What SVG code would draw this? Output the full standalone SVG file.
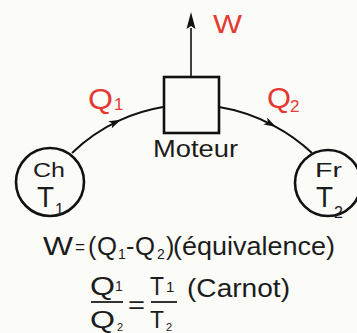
<svg xmlns="http://www.w3.org/2000/svg" width="357" height="333" viewBox="0 0 357 333">
<defs>
<style>
text{font-family:"Liberation Sans","DejaVu Sans",sans-serif;fill:#1c1c1c}
.red{fill:#e53a33}
.ln{fill:none;stroke:#111;stroke-width:2}
.nd{fill:none;stroke:#111;stroke-width:2.6}
</style>
<marker id="ah" viewBox="0 0 12 8" refX="10" refY="4" markerWidth="12" markerHeight="8" markerUnits="userSpaceOnUse" orient="auto">
<path d="M0,0 L12,4 L0,8 L3,4 z" fill="#111"/>
</marker>
</defs>
<rect width="357" height="333" fill="#fbfbf8"/>
<g id="connectors">
<path class="ln" d="M72,153 A172,172 0 0 1 119,120.6" marker-end="url(#ah)"/>
<path class="ln" d="M119,120.6 A172,172 0 0 1 163,107"/>
<path class="ln" d="M219,107 A172,172 0 0 1 274,125.8" marker-end="url(#ah)"/>
<path class="ln" d="M274,125.8 A172,172 0 0 1 312,153"/>
<line x1="191" y1="76" x2="191" y2="28" stroke="#111" stroke-width="1.6"/>
<path d="M191,12 L195.5,29 L191,26 L186.5,29 z" fill="#111"/>
<text class="red" x="213" y="33" font-size="25" textLength="29" lengthAdjust="spacingAndGlyphs">W</text>
<text class="red" x="88" y="109" font-size="29" textLength="25" lengthAdjust="spacingAndGlyphs">Q</text>
<text class="red" x="114" y="110" font-size="17">1</text>
<text class="red" x="267" y="108" font-size="29" textLength="24" lengthAdjust="spacingAndGlyphs">Q</text>
<text class="red" x="290" y="112" font-size="17">2</text>
</g>
<g id="moteur">
<rect class="nd" x="164" y="77" width="55" height="56"/>
<text x="153" y="157" font-size="23" textLength="85" lengthAdjust="spacingAndGlyphs">Moteur</text>
</g>
<g id="ch">
<circle class="nd" cx="50" cy="182" r="34"/>
<text x="33" y="177" font-size="20" textLength="32" lengthAdjust="spacingAndGlyphs">Ch</text>
<text x="37" y="207" font-size="30" textLength="17" lengthAdjust="spacingAndGlyphs">T</text>
<text x="55" y="215" font-size="16">1</text>
</g>
<g id="fr">
<circle class="nd" cx="328" cy="183" r="33"/>
<text x="315" y="177" font-size="20" textLength="27" lengthAdjust="spacingAndGlyphs">Fr</text>
<text x="316" y="207" font-size="30" textLength="17" lengthAdjust="spacingAndGlyphs">T</text>
<text x="334" y="218" font-size="16">2</text>
</g>
<g id="equations">
<text x="43" y="255" font-size="25" textLength="30" lengthAdjust="spacingAndGlyphs">W</text>
<text x="75" y="253" font-size="18" textLength="10" lengthAdjust="spacingAndGlyphs">=</text>
<text x="88" y="255" font-size="25">(</text>
<text x="97" y="255" font-size="25" textLength="20" lengthAdjust="spacingAndGlyphs">Q</text>
<text x="118" y="259" font-size="14">1</text>
<text x="126" y="255" font-size="25">-</text>
<text x="135" y="255" font-size="25" textLength="20" lengthAdjust="spacingAndGlyphs">Q</text>
<text x="157" y="259" font-size="14">2</text>
<text x="166" y="255" font-size="25">)</text>
<text x="173" y="255" font-size="25" textLength="162" lengthAdjust="spacingAndGlyphs">(équivalence)</text>
<text x="90" y="295" font-size="26" textLength="25" lengthAdjust="spacingAndGlyphs">Q</text>
<text x="115" y="291" font-size="14">1</text>
<line x1="91" y1="302" x2="123" y2="302" stroke="#1c1c1c" stroke-width="1.8"/>
<text x="90" y="328" font-size="23" textLength="25" lengthAdjust="spacingAndGlyphs">Q</text>
<text x="117" y="331" font-size="11">2</text>
<text x="128" y="313" font-size="24" textLength="17" lengthAdjust="spacingAndGlyphs">=</text>
<text x="150" y="295" font-size="26" textLength="14" lengthAdjust="spacingAndGlyphs">T</text>
<text x="166" y="292" font-size="15">1</text>
<line x1="151" y1="302" x2="177" y2="302" stroke="#1c1c1c" stroke-width="1.8"/>
<text x="150" y="328" font-size="23" textLength="14" lengthAdjust="spacingAndGlyphs">T</text>
<text x="166" y="331" font-size="11">2</text>
<text x="187" y="297" font-size="25" textLength="103" lengthAdjust="spacingAndGlyphs">(Carnot)</text>
</g>
</svg>
